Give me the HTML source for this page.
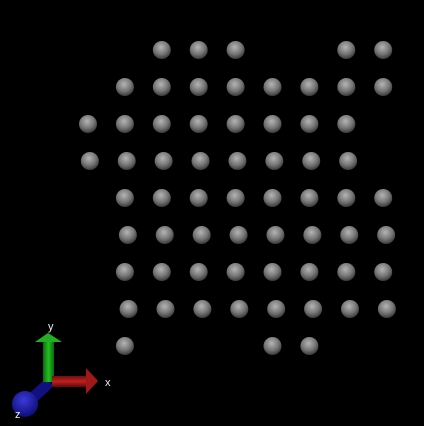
<!DOCTYPE html>
<html><head><meta charset="utf-8"><style>
html,body{margin:0;padding:0;background:#000;width:424px;height:426px;overflow:hidden}
svg{display:block}
text{font-family:"Liberation Sans",sans-serif;fill:#eee;font-size:11px}
</style></head><body>
<svg id="scene" width="424" height="426" viewBox="0 0 424 426">
<defs>
<radialGradient id="sg" cx="0.45" cy="0.35" r="0.7">
<stop offset="0" stop-color="#b4b4b4"/><stop offset="0.55" stop-color="#767676"/><stop offset="1" stop-color="#2e2e2e"/>
</radialGradient>
<radialGradient id="bg" cx="0.45" cy="0.35" r="0.7">
<stop offset="0" stop-color="#3a3ad8"/><stop offset="1" stop-color="#0a0a70"/>
</radialGradient>
<linearGradient id="gg" x1="0" x2="1"><stop offset="0" stop-color="#0a6a0a"/><stop offset="0.5" stop-color="#22c022"/><stop offset="1" stop-color="#0a6a0a"/></linearGradient>
<linearGradient id="rg" x1="0" y1="0" x2="0" y2="1"><stop offset="0" stop-color="#701010"/><stop offset="0.5" stop-color="#c02020"/><stop offset="1" stop-color="#600808"/></linearGradient>
</defs>
<g id="spheres"></g>
<g>
<line x1="50" y1="382" x2="28" y2="402" stroke="#101080" stroke-width="11"/>
<rect x="43" y="342" width="11" height="40" fill="url(#gg)"/>
<polygon points="35,342 62,342 48,333" fill="#22b022"/>
<rect x="52" y="376" width="35" height="11" fill="url(#rg)"/>
<polygon points="86,368 86,394 98,381" fill="#a01818"/>
<circle cx="25" cy="404" r="13" fill="url(#bg)"/>
<text x="48" y="330">y</text>
<text x="105" y="386">x</text>
<text x="15" y="418">z</text>
</g>
</svg>
<script>
const rowIndex = [0,1,2,3,4,5,6,7,8];
const rowCols = [
 [2,3,4,7,8],
 [1,2,3,4,5,6,7,8],
 [0,1,2,3,4,5,6,7],
 [0,1,2,3,4,5,6,7],
 [1,2,3,4,5,6,7,8],
 [1,2,3,4,5,6,7,8],
 [1,2,3,4,5,6,7,8],
 [1,2,3,4,5,6,7,8],
 [1,5,6]
];
const rowShift = [0,0,0,0.05,0,0.08,0,0.1,0];
function xs(c,r){return 88+36.9*(c+rowShift[r]);}
function ys(r){return 50+37*r;}
const g=document.getElementById('spheres');
rowIndex.forEach(r=>{
  rowCols[r].forEach(c=>{
    const el=document.createElementNS('http://www.w3.org/2000/svg','circle');
    el.setAttribute('cx',xs(c,r));
    el.setAttribute('cy',ys(r));
    el.setAttribute('r',9);
    el.setAttribute('fill','url(#sg)');
    
    
    g.appendChild(el);
  });
});
</script>
</body></html>
